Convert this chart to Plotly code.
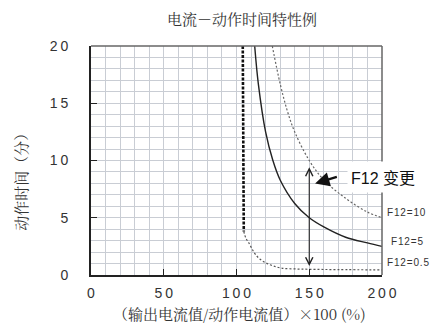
"""Current vs. operating-time characteristic chart."""
import plotly.graph_objects as go

# F12 = 5 (solid)
f5_x = [112.5, 115, 120, 125, 130, 140, 150, 160, 175, 190, 200]
f5_y = [20.0, 16.7, 12.5, 10.0, 8.3, 6.25, 5.0, 4.2, 3.3, 2.8, 2.5]

# F12 = 10 (thin dotted)
f10_x = [124.6, 130, 135, 140, 150, 160, 175, 190, 200]
f10_y = [20.0, 16.7, 14.3, 12.5, 10.0, 8.3, 6.7, 5.5, 5.0]

# F12 = 0.5: thick near-vertical part, then thin dotted tail
f05_top_x = [104.3, 104.4, 104.6, 105.0]
f05_top_y = [20.0, 12.0, 6.0, 3.8]
f05_x = [105.0, 106.5, 108.5, 111, 113, 116, 120, 125, 131, 140, 150, 170, 200]
f05_y = [3.8, 3.2, 2.8, 2.2, 1.8, 1.4, 1.07, 0.8, 0.6, 0.53, 0.5, 0.47, 0.45]

x_ticks = [0, 50, 100, 150, 200]
y_ticks = [0, 5, 10, 15, 20]
curve_labels = ["F12=10", "F12=5", "F12=0.5"]
curve_label_y = [5.45, 2.95, 1.1]
curve_label_x = [1.01, 1.024, 1.01]

TH = "\u2009"  # thin space, to mimic the spaced-out digits
HAIR = "\u200a"


def spaced(s, sep=TH):
    return sep.join(list(s))


fig = go.Figure()

fig.add_trace(go.Scatter(
    x=f05_top_x, y=f05_top_y, mode="lines",
    line=dict(color="#111", width=2.6, dash="3px,1.5px"),
))
fig.add_trace(go.Scatter(
    x=f05_x, y=f05_y, mode="lines", line_shape="spline",
    line=dict(color="#555", width=1.2, dash="2px,2px"),
))
fig.add_trace(go.Scatter(
    x=f5_x, y=f5_y, mode="lines", line_shape="spline",
    line=dict(color="#222", width=1.4),
))
fig.add_trace(go.Scatter(
    x=f10_x, y=f10_y, mode="lines", line_shape="spline",
    line=dict(color="#666", width=1.2, dash="2px,2px"),
))

grid = "#c9cdd4"
tick_font = dict(family="Liberation Sans, Arial", size=14, color="#333")

# the page body adds an 8px offset, so margins are trimmed to compensate
fig.update_layout(
    width=438, height=325,
    margin=dict(l=83, r=64, t=38, b=58),
    plot_bgcolor="white", paper_bgcolor="white",
    showlegend=False,
    xaxis=dict(
        range=[0, 200], tickvals=x_ticks,
        ticktext=[spaced(str(v)) for v in x_ticks],
        showgrid=True, gridcolor=grid, gridwidth=1,
        minor=dict(dtick=10, showgrid=True, gridcolor=grid, gridwidth=1),
        showline=True, linecolor="#222", linewidth=2,
        ticks="inside", ticklen=6, tickcolor="#222", tickwidth=1.2,
        tickfont=tick_font, ticklabelstandoff=4, zeroline=False,
    ),
    yaxis=dict(
        range=[0, 20], tickvals=y_ticks,
        ticktext=[spaced(str(v)) for v in y_ticks],
        showgrid=True, gridcolor=grid, gridwidth=1,
        minor=dict(dtick=1, showgrid=True, gridcolor=grid, gridwidth=1),
        showline=True, linecolor="#222", linewidth=2,
        ticks="inside", ticklen=6, tickcolor="#222", tickwidth=1.2,
        tickfont=tick_font, ticklabelstandoff=18, zeroline=False,
    ),
    shapes=[
        dict(type="line", xref="paper", yref="paper", x0=0, x1=1, y0=1, y1=1,
             line=dict(color="#666", width=1.5)),
        dict(type="line", xref="paper", yref="paper", x0=1, x1=1, y0=0, y1=1,
             line=dict(color="#666", width=1.5)),
    ],
)

cjk = "Noto Serif CJK SC, Noto Sans CJK SC"
annotations = [
    dict(text="电流－动作时间特性例", xref="paper", yref="paper", x=0.52, y=1.0,
         yanchor="middle", yshift=28, showarrow=False,
         font=dict(family=cjk, size=15, color="#333")),
    dict(text="（输出电流值/动作电流值）×100 (%)", xref="paper", yref="paper",
         x=0.51, y=0, yanchor="middle", yshift=-38, showarrow=False,
         font=dict(family=cjk + ", Liberation Sans", size=15, color="#333")),
    dict(text="动作时间（分）", xref="paper", yref="paper", x=0, y=0.42,
         xanchor="center", yanchor="middle", xshift=-70, textangle=-90,
         showarrow=False, font=dict(family=cjk, size=15, color="#333")),
    # double-headed arrow at 150 %
    dict(x=150, y=9.4, ax=150, ay=0.65, xref="x", yref="y", axref="x", ayref="y",
         text="", showarrow=True, arrowside="end+start", arrowhead=5,
         startarrowhead=5, arrowsize=1.3, startarrowsize=1.3, arrowwidth=1.1,
         arrowcolor="#222"),
    # pointer from the label
    dict(x=154, y=8.0, ax=170, ay=8.6, xref="x", yref="y", axref="x", ayref="y",
         text="", showarrow=True, arrowhead=2, arrowsize=1.2, arrowwidth=2.4,
         arrowcolor="#111"),
    dict(text="F12 <span style='font-family:Noto Sans CJK SC'>变更</span>",
         xref="paper", yref="y", x=0.88, y=8.6, xanchor="left", yanchor="middle",
         showarrow=False, bgcolor="white", borderpad=3,
         font=dict(family="Liberation Sans, Arial", size=16, color="#111")),
]
for txt, ly, lx in zip(curve_labels, curve_label_y, curve_label_x):
    annotations.append(dict(
        text=spaced(txt, HAIR), xref="paper", yref="y", x=lx, y=ly,
        xanchor="left", yanchor="middle", showarrow=False,
        font=dict(family="Liberation Sans, Arial", size=10, color="#333"),
    ))
fig.update_layout(annotations=annotations)

fig.write_html("out.html")
